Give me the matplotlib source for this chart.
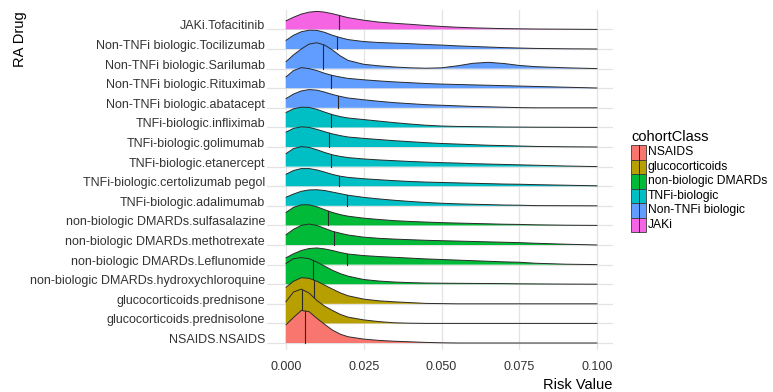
import numpy as np
import matplotlib
matplotlib.use("Agg")
import matplotlib.pyplot as plt
from matplotlib.patches import Rectangle
from matplotlib.lines import Line2D

plt.rcParams['font.family'] = ['Liberation Sans', 'DejaVu Sans']

# ---------------- data ----------------
# risk-value grid at which ridge heights were read
risk_grid = [0, .0025, .005, .0075, .01, .0125, .015, .0175, .02, .025, .03, .035,
             .04, .045, .05, .055, .06, .065, .07, .075, .08, .09, .1]

# drugs from bottom to top
drugs = ["NSAIDS.NSAIDS",
         "glucocorticoids.prednisolone",
         "glucocorticoids.prednisone",
         "non-biologic DMARDs.hydroxychloroquine",
         "non-biologic DMARDs.Leflunomide",
         "non-biologic DMARDs.methotrexate",
         "non-biologic DMARDs.sulfasalazine",
         "TNFi-biologic.adalimumab",
         "TNFi-biologic.certolizumab pegol",
         "TNFi-biologic.etanercept",
         "TNFi-biologic.golimumab",
         "TNFi-biologic.infliximab",
         "Non-TNFi biologic.abatacept",
         "Non-TNFi biologic.Rituximab",
         "Non-TNFi biologic.Sarilumab",
         "Non-TNFi biologic.Tocilizumab",
         "JAKi.Tofacitinib"]

drug_class = ["NSAIDS", "glucocorticoids", "glucocorticoids",
              "non-biologic DMARDs", "non-biologic DMARDs", "non-biologic DMARDs", "non-biologic DMARDs",
              "TNFi-biologic", "TNFi-biologic", "TNFi-biologic", "TNFi-biologic", "TNFi-biologic",
              "Non-TNFi biologic", "Non-TNFi biologic", "Non-TNFi biologic", "Non-TNFi biologic",
              "JAKi"]

classes = ["NSAIDS", "glucocorticoids", "non-biologic DMARDs", "TNFi-biologic",
           "Non-TNFi biologic", "JAKi"]
class_colors = ["#F8766D", "#B79F00", "#00BA38", "#00BFC4", "#619CFF", "#F564E3"]

# scaled density heights (in units of ridge spacing)
d_nsaids = [0.92, 1.30, 1.66, 1.60, 1.26, 0.95, 0.66, 0.45, 0.32, 0.20, 0.13, 0.09, 0.06, 0.03, 0.01, 0, 0, 0, 0, 0, 0, 0, 0]
d_prednisolone = [1.09, 1.60, 1.75, 1.55, 1.17, 0.88, 0.66, 0.46, 0.32, 0.18, 0.09, 0.03, 0.01, 0, 0, 0, 0, 0, 0, 0, 0, 0, 0]
d_prednisone = [0.83, 1.15, 1.33, 1.30, 1.15, 0.95, 0.75, 0.56, 0.41, 0.24, 0.15, 0.10, 0.06, 0.02, 0.01, 0, 0, 0, 0, 0, 0, 0, 0]
d_hydroxychloroquine = [1.05, 1.30, 1.36, 1.30, 1.13, 0.92, 0.71, 0.54, 0.41, 0.24, 0.16, 0.11, 0.08, 0.06, 0.05, 0.045, 0.04, 0.035, 0.03, 0.02, 0.015, 0.005, 0]
d_leflunomide = [0.34, 0.55, 0.72, 0.82, 0.85, 0.80, 0.72, 0.62, 0.54, 0.46, 0.41, 0.37, 0.33, 0.29, 0.26, 0.23, 0.20, 0.17, 0.14, 0.12, 0.07, 0.02, 0]
d_methotrexate = [0.51, 0.80, 1.00, 1.07, 1.00, 0.85, 0.70, 0.60, 0.51, 0.40, 0.34, 0.30, 0.27, 0.24, 0.22, 0.20, 0.18, 0.16, 0.14, 0.12, 0.09, 0.04, 0]
d_sulfasalazine = [0.65, 0.92, 1.05, 1.05, 0.95, 0.80, 0.66, 0.55, 0.47, 0.37, 0.30, 0.24, 0.20, 0.17, 0.14, 0.12, 0.10, 0.08, 0.06, 0.05, 0.03, 0.01, 0]
d_adalimumab = [0.43, 0.60, 0.74, 0.81, 0.82, 0.78, 0.70, 0.62, 0.54, 0.43, 0.35, 0.28, 0.22, 0.17, 0.13, 0.10, 0.08, 0.06, 0.04, 0.03, 0.01, 0.005, 0]
d_certolizumab = [0.60, 0.80, 0.90, 0.90, 0.83, 0.72, 0.60, 0.51, 0.45, 0.38, 0.33, 0.28, 0.24, 0.21, 0.19, 0.17, 0.15, 0.13, 0.11, 0.10, 0.08, 0.05, 0.02]
d_etanercept = [0.65, 0.92, 1.02, 0.98, 0.86, 0.72, 0.60, 0.52, 0.46, 0.39, 0.34, 0.30, 0.26, 0.23, 0.20, 0.18, 0.15, 0.13, 0.11, 0.09, 0.07, 0.03, 0]
d_golimumab = [0.75, 0.95, 1.03, 1.00, 0.90, 0.78, 0.67, 0.58, 0.51, 0.44, 0.38, 0.32, 0.27, 0.22, 0.18, 0.15, 0.12, 0.09, 0.07, 0.05, 0.03, 0.01, 0]
d_infliximab = [0.75, 0.95, 1.03, 1.02, 0.92, 0.78, 0.65, 0.55, 0.48, 0.40, 0.32, 0.24, 0.17, 0.11, 0.07, 0.05, 0.04, 0.03, 0.02, 0.015, 0.01, 0.005, 0]
d_abatacept = [0.46, 0.70, 0.86, 0.93, 0.90, 0.80, 0.68, 0.58, 0.50, 0.41, 0.33, 0.26, 0.21, 0.16, 0.13, 0.10, 0.07, 0.05, 0.03, 0.01, 0, 0, 0]
d_rituximab = [0.56, 0.90, 1.05, 1.00, 0.90, 0.76, 0.65, 0.57, 0.50, 0.43, 0.37, 0.32, 0.28, 0.24, 0.21, 0.19, 0.17, 0.15, 0.13, 0.11, 0.09, 0.05, 0.01]
d_sarilumab = [0.34, 0.70, 1.00, 1.25, 1.32, 1.20, 0.95, 0.65, 0.42, 0.22, 0.14, 0.08, 0.04, 0.02, 0.04, 0.14, 0.27, 0.32, 0.26, 0.16, 0.10, 0.04, 0]
d_tocilizumab = [0.43, 0.70, 0.88, 0.96, 0.95, 0.85, 0.70, 0.58, 0.48, 0.38, 0.33, 0.30, 0.27, 0.23, 0.20, 0.16, 0.13, 0.10, 0.07, 0.05, 0.03, 0.01, 0]
d_tofacitinib = [0.43, 0.62, 0.78, 0.88, 0.92, 0.88, 0.80, 0.70, 0.60, 0.47, 0.37, 0.31, 0.26, 0.20, 0.15, 0.11, 0.08, 0.06, 0.04, 0.03, 0.02, 0.01, 0]

densities = [d_nsaids, d_prednisolone, d_prednisone, d_hydroxychloroquine, d_leflunomide,
             d_methotrexate, d_sulfasalazine, d_adalimumab, d_certolizumab, d_etanercept,
             d_golimumab, d_infliximab, d_abatacept, d_rituximab, d_sarilumab,
             d_tocilizumab, d_tofacitinib]

medians = [0.0061, 0.0053, 0.0092, 0.0087, 0.0198, 0.0154, 0.0136, 0.0196, 0.0170,
           0.0145, 0.0139, 0.0145, 0.0169, 0.0145, 0.0120, 0.0163, 0.0171]

x_ticks = [0.0, 0.025, 0.05, 0.075, 0.1]
x_ticklabels = ["0.000", "0.025", "0.050", "0.075", "0.100"]

# ---------------- figure ----------------
W, H = 773, 392
fig = plt.figure(figsize=(W / 100, H / 100), dpi=100)
fig.patch.set_facecolor("white")

def fx(px):
    return px / W

def fy(py):
    return 1 - py / H

ax = fig.add_axes([fx(267), fy(350), fx(613) - fx(267), fy(10) - fy(350)])
ax.set_xlim(-0.006, 0.105)
ax.set_ylim(-0.357, 16.99)

grid_col = "#E3E3E3"
for xv in x_ticks:
    ax.axvline(xv, color=grid_col, lw=0.9, zorder=0)
for i in range(len(drugs)):
    ax.axhline(i, color=grid_col, lw=0.9, zorder=0)

color_of = dict(zip(classes, class_colors))
xg = np.array(risk_grid)
for i, (name, cls, dens, med) in enumerate(zip(drugs, drug_class, densities, medians)):
    h = np.array(dens)
    z = 100 - i
    ax.fill_between(xg, i, i + h, facecolor=color_of[cls], edgecolor="none", lw=0, zorder=z)
    ax.plot(xg, i + h, color="#2a2a2a", lw=0.7, zorder=z + 0.5, solid_capstyle="butt")
    mh = np.interp(med, xg, h)
    ax.plot([med, med], [i, i + mh], color="#2a2a2a", lw=0.8, zorder=z + 0.5)

for s in ax.spines.values():
    s.set_visible(False)

ax.set_xticks(x_ticks)
ax.set_xticklabels(x_ticklabels)
ax.set_yticks(range(len(drugs)))
ax.set_yticklabels(drugs)
ax.tick_params(axis="x", length=0, pad=8, labelsize=9, labelcolor="#333333")
ax.tick_params(axis="y", length=0, pad=1.5, labelsize=9, labelcolor="#333333")
for lab in ax.get_yticklabels():
    lab.set_va("baseline")

fig.text(fx(612), fy(385), "Risk Value", ha="right", va="center", fontsize=10.5, color="black")
fig.text(fx(20), fy(11), "RA Drug", ha="center", va="top", rotation=90, fontsize=10.5, color="black")

# ---------------- legend ----------------
fig.text(fx(631), fy(137), "cohortClass", ha="left", va="center", fontsize=10.5, color="black")
key_h = 14.5
key_w = 15
for k, (cls, col) in enumerate(zip(classes, class_colors)):
    top = 145 + key_h * k
    fig.add_artist(Rectangle((fx(631), fy(top + key_h)), fx(key_w), fy(top) - fy(top + key_h),
                             transform=fig.transFigure, facecolor=col, edgecolor="#3a3a3a", lw=0.6))
    fig.add_artist(Line2D([fx(631 + key_w / 2)] * 2, [fy(top + key_h), fy(top)],
                          transform=fig.transFigure, color="#2a2a2a", lw=0.7))
    fig.text(fx(648), fy(top + key_h / 2), cls, ha="left", va="center", fontsize=8.7, color="black")

fig.savefig("out.png", dpi=100)
